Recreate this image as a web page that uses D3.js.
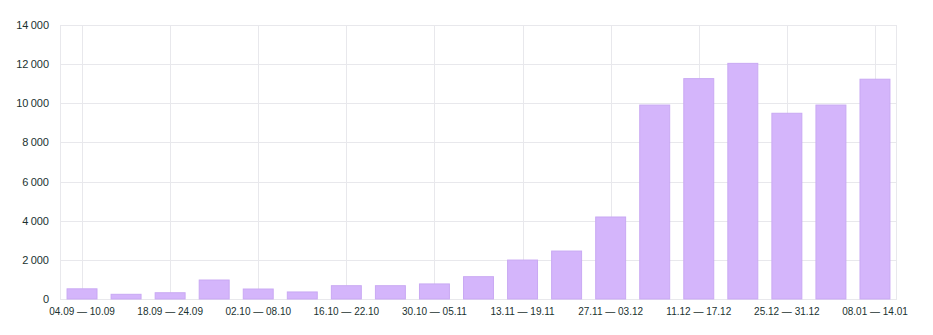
<!DOCTYPE html>
<html>
<head>
<meta charset="utf-8">
<script src="https://cdn.jsdelivr.net/npm/d3@7"></script>
<style>
  body { margin: 0; background: #fff; }
  svg text { font-family: "Liberation Sans", Arial, sans-serif; font-size: 11px; fill: #1a3230; }
  .xaxis text { font-size: 10px; }
</style>
</head>
<body>
<svg id="chart" width="933" height="335"></svg>
<script>
// weekly ranges
var weeks = [
  "04.09 — 10.09", "11.09 — 17.09", "18.09 — 24.09", "25.09 — 01.10",
  "02.10 — 08.10", "09.10 — 15.10", "16.10 — 22.10", "23.10 — 29.10",
  "30.10 — 05.11", "06.11 — 12.11", "13.11 — 19.11", "20.11 — 26.11",
  "27.11 — 03.12", "04.12 — 10.12", "11.12 — 17.12", "18.12 — 24.12",
  "25.12 — 31.12", "01.01 — 07.01", "08.01 — 14.01"
];
var counts = [
  520, 240, 320, 970, 510, 360, 680, 680, 770, 1140,
  1990, 2450, 4190, 9910, 11260, 12040, 9490, 9910, 11230
];
var yTicks = [0, 2000, 4000, 6000, 8000, 10000, 12000, 14000];

var margin = { top: 25, right: 36, bottom: 36, left: 60 };
var svg = d3.select("#chart");
var w = 933 - margin.left - margin.right,
    h = 335 - margin.top - margin.bottom;
var g = svg.append("g").attr("transform", "translate(" + margin.left + "," + margin.top + ")");

var x = d3.scaleBand().domain(weeks).range([0, w]).paddingInner(0.32).paddingOuter(0.16);
var y = d3.scaleLinear().domain([0, 14000]).range([h, 0]);

var fmt = function(d) { return d3.format(",")(d).replace(/,/g, "\u2009"); };

// horizontal grid
g.append("g").selectAll("line").data(yTicks).enter().append("line")
  .attr("x1", 0).attr("x2", w)
  .attr("y1", function(d) { return Math.round(y(d)) + 0.5; })
  .attr("y2", function(d) { return Math.round(y(d)) + 0.5; })
  .attr("stroke", "#e8e8ec");

// vertical grid at labelled weeks
var labelled = weeks.filter(function(d, i) { return i % 2 === 0; });
g.append("g").selectAll("line").data(labelled).enter().append("line")
  .attr("x1", function(d) { return Math.round(x(d) + x.bandwidth() / 2) + 0.5; })
  .attr("x2", function(d) { return Math.round(x(d) + x.bandwidth() / 2) + 0.5; })
  .attr("y1", 0).attr("y2", h)
  .attr("stroke", "#e8e8ec");

// left / right frame
g.append("line").attr("x1", 0.5).attr("x2", 0.5).attr("y1", 0).attr("y2", h).attr("stroke", "#e8e8ec");
g.append("line").attr("x1", w - 0.5).attr("x2", w - 0.5).attr("y1", 0).attr("y2", h).attr("stroke", "#e8e8ec");

// bars
g.append("g").selectAll("rect").data(counts).enter().append("rect")
  .attr("x", function(d, i) { return x(weeks[i]); })
  .attr("y", function(d) { return y(d); })
  .attr("width", x.bandwidth())
  .attr("height", function(d) { return h - y(d); })
  .attr("fill", "#d4b5fb")
  .attr("stroke", "#c9a9f3")
  .attr("stroke-width", 1);

// y axis
var yAxis = g.append("g").call(d3.axisLeft(y).tickValues(yTicks).tickFormat(fmt).tickSize(0).tickPadding(11));
yAxis.select(".domain").remove();
yAxis.selectAll("text").attr("dy", "0.32em");

// x axis
var xAxis = g.append("g").attr("class", "xaxis").attr("transform", "translate(0," + h + ")")
  .call(d3.axisBottom(x).tickValues(labelled).tickSize(0).tickPadding(9));
xAxis.select(".domain").remove();
</script>
</body>
</html>
